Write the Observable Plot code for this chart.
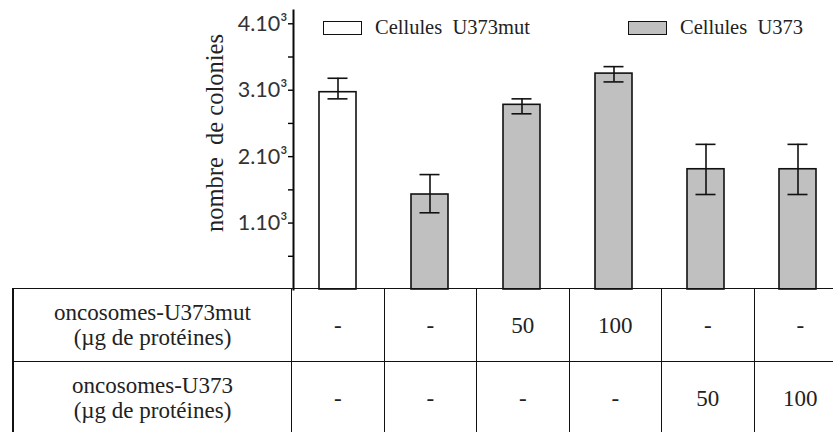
<!DOCTYPE html>
<html>
<head>
<meta charset="utf-8">
<script src="https://cdn.jsdelivr.net/npm/d3@7"></script>
<script src="https://cdn.jsdelivr.net/npm/@observablehq/plot@0.6"></script>
<style>
  html, body { margin: 0; padding: 0; background: #fff; overflow: hidden; }
  #wrap { position: relative; width: 833px; height: 432px; overflow: hidden; }
  #chart svg { display: block; overflow: visible; }
  #chart g[aria-label="y-axis tick label"] text { font-family: Lato, sans-serif; font-size: 21.5px; fill: #333; }
  #legend { position: absolute; left: 323px; top: 16px; width: 480px; display: flex; justify-content: space-between;
            font-family: "Liberation Serif", serif; font-size: 20.5px; color: #222; }
  #legend .item { display: flex; align-items: center; white-space: pre; }
  #legend .sw { width: 37px; height: 12px; border: 1.5px solid #111; margin-right: 13px; }
  #table { position: absolute; left: 12px; top: 288px; border-collapse: collapse; table-layout: fixed; width: 834px;
           font-family: "Liberation Serif", serif; font-size: 23px; color: #222; }
  #table td { border: 1.5px solid #111; text-align: center; vertical-align: middle; height: 72px; padding: 0; line-height: 25px; }
  #table td:first-child { border-left: 2px solid #111; }
  #table tr:first-child td { border-top: 2.5px solid #222; }
</style>
</head>
<body>
<div id="wrap">
  <div id="chart"></div>
  <div id="legend"></div>
  <table id="table"></table>
</div>
<script>
// ---- data ----
const conditions = ["U373mut", "U373", "U373 + mut 50", "U373 + mut 100", "U373 + U373 50", "U373 + U373 100"];
const cellLines = ["Cellules U373mut", "Cellules U373"];
const cellOfCondition = ["Cellules U373mut", "Cellules U373", "Cellules U373", "Cellules U373", "Cellules U373", "Cellules U373"];
const colonies = [2970, 1430, 2780, 3250, 1810, 1810];
const errLow   = [2870, 1155, 2645, 3125, 1430, 1430];
const errHigh  = [3180, 1730, 2870, 3355, 2185, 2185];
const oncoMutDose = ["-", "-", "50", "100", "-", "-"];
const oncoWtDose  = ["-", "-", "-", "-", "50", "100"];
const rowLabels = [["oncosomes-U373mut", "(µg de protéines)"], ["oncosomes-U373", "(µg de protéines)"]];
const yTicks = [1000, 2000, 3000, 4000];
const yTickLabels = ["1.10³", "2.10³", "3.10³", "4.10³"];
const yMinorTicks = [500, 1500, 2500, 3500];
const yTitle = "nombre  de colonies";

const rows = conditions.map((c, i) => ({
  condition: c, cell: cellOfCondition[i], colonies: colonies[i], lo: errLow[i], hi: errHigh[i]
}));

const chart = Plot.plot({
  width: 833,
  height: 290,
  marginLeft: 293,
  marginTop: 10,
  marginBottom: 1,
  marginRight: 0,
  x: {domain: conditions, range: [290, 845], paddingInner: 0.6, paddingOuter: 0.3, axis: null},
  y: {domain: [0, 4200], axis: null},
  color: {domain: cellLines, range: ["#ffffff", "#c0c0c0"]},
  marks: [
    Plot.barY(rows, {x: "condition", y: "colonies", fill: "cell", stroke: "#111", strokeWidth: 1.6}),
    Plot.ruleX(rows, {x: "condition", y1: "lo", y2: "hi", stroke: "#111", strokeWidth: 1.6}),
    Plot.tickY(rows, {x: "condition", y: "hi", inset: 8.5, stroke: "#111", strokeWidth: 1.6}),
    Plot.tickY(rows, {x: "condition", y: "lo", inset: 8.5, stroke: "#111", strokeWidth: 1.6}),
    Plot.axisY({
      ticks: yTicks,
      tickFormat: d => yTickLabels[yTicks.indexOf(d)],
      tickSize: 5, tickPadding: 1, stroke: "black", strokeWidth: 1.4,
      label: null
    }),
    Plot.axisY({ticks: yMinorTicks, tickFormat: () => "", tickSize: 5, label: null, stroke: "black", strokeWidth: 1.4}),
    Plot.text([yTitle], {
      frameAnchor: "left", rotate: -90, dx: -78, dy: -17,
      fontFamily: "Liberation Serif", fontSize: 24.5, fill: "#222", textAnchor: "middle", lineAnchor: "middle"
    }),
    // y-axis line along the left edge of the frame, drawn last
    Plot.frame({anchor: "left", stroke: "#0a0a0a", strokeWidth: 2})
  ]
});
document.getElementById("chart").appendChild(chart);

// ---- legend ----
const legend = d3.select("#legend");
cellLines.forEach((name, i) => {
  const item = legend.append("div").attr("class", "item");
  item.append("div").attr("class", "sw").style("background", ["#ffffff", "#c0c0c0"][i]);
  item.append("span").text(name.replace(" ", "  "));
});

// ---- table below the chart ----
const table = d3.select("#table");
const cg = table.append("colgroup");
cg.append("col").style("width", "278.5px");
conditions.forEach(() => cg.append("col").style("width", "92.5px"));
[oncoMutDose, oncoWtDose].forEach((doses, r) => {
  const tr = table.append("tr");
  tr.append("td").html(rowLabels[r].join("<br>"));
  doses.forEach(d => tr.append("td").text(d));
});
</script>
</body>
</html>
